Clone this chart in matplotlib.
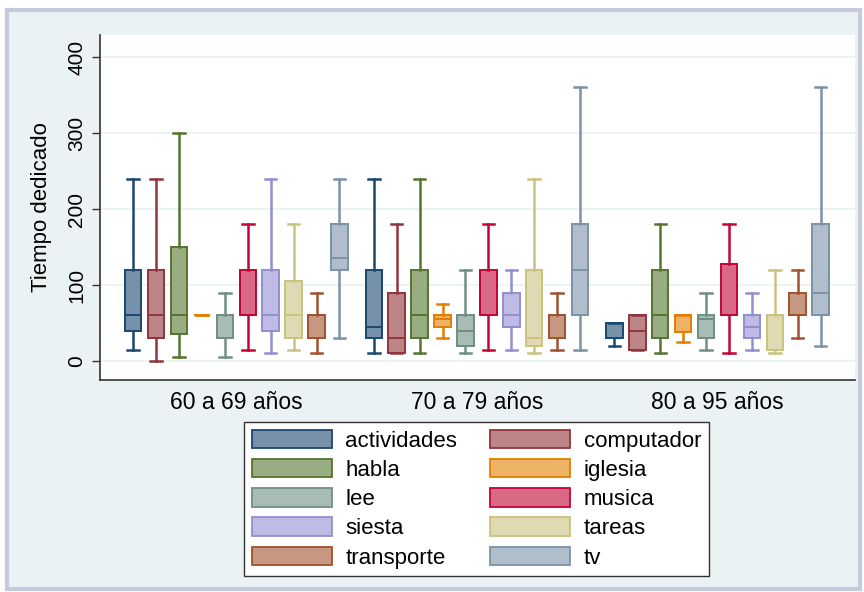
import numpy as np
import matplotlib.pyplot as plt
from matplotlib.patches import Patch, Rectangle
import matplotlib.colors as mcolors

plt.rcParams['font.family'] = ['Liberation Sans', 'DejaVu Sans']

groups = ['60 a 69 años', '70 a 79 años', '80 a 95 años']
activities = ['actividades', 'computador', 'habla', 'iglesia', 'lee',
              'musica', 'siesta', 'tareas', 'transporte', 'tv']

# one row per age group, one value per activity (same order as activities)
whisker_low = [
    [15, 0, 5, 60, 5, 15, 10, 15, 10, 30],
    [10, 10, 10, 30, 10, 15, 15, 10, 15, 15],
    [20, 15, 10, 25, 15, 10, 15, 10, 30, 20],
]
q1 = [
    [40, 30, 35, 60, 30, 60, 40, 30, 30, 120],
    [30, 10, 30, 45, 20, 60, 45, 20, 30, 60],
    [30, 15, 30, 38, 30, 60, 30, 15, 60, 60],
]
median = [
    [60, 60, 60, 60, 60, 60, 60, 60, 60, 135],
    [45, 30, 60, 55, 40, 60, 60, 30, 60, 120],
    [30, 40, 60, 60, 55, 60, 45, 15, 60, 90],
]
q3 = [
    [120, 120, 150, 60, 60, 120, 120, 105, 60, 180],
    [120, 90, 120, 60, 60, 120, 90, 120, 60, 180],
    [50, 60, 120, 60, 60, 127, 60, 60, 90, 180],
]
whisker_high = [
    [240, 240, 300, 60, 90, 180, 240, 180, 90, 240],
    [240, 180, 240, 75, 120, 180, 120, 240, 90, 360],
    [50, 60, 180, 60, 90, 180, 90, 120, 120, 360],
]

edge_colors = ['#1a476f', '#90353b', '#55752f', '#e37e00', '#6e8e84',
               '#c10534', '#938dd2', '#cac27e', '#a0522d', '#7b92a8']


def lighten(c, a=0.6):
    r = np.array(mcolors.to_rgb(c))
    return tuple(a * r + (1 - a) * np.ones(3))


fill_colors = [lighten(c) for c in edge_colors]

fig = plt.figure(figsize=(8.64, 5.92), dpi=100, facecolor='white')
# outer stata-like graph region
fig.patches.append(Rectangle((7 / 864, 1 - 589 / 592), 853 / 864, 579 / 592,
                             transform=fig.transFigure, facecolor='#eaf2f3',
                             edgecolor='#c3cbdc', linewidth=3, zorder=-10))

ax = fig.add_axes([100 / 864, 1 - 380 / 592, 755 / 864, 345 / 592])
ax.set_facecolor('white')

gap = 10.5
for g in range(len(groups)):
    for i, act in enumerate(activities):
        st = dict(whislo=whisker_low[g][i], q1=q1[g][i], med=median[g][i],
                  q3=q3[g][i], whishi=whisker_high[g][i], fliers=[])
        col = edge_colors[i]
        ax.bxp([st], positions=[g * gap + i], widths=0.72, capwidths=0.5,
               patch_artist=True, showfliers=False,
               boxprops=dict(facecolor=fill_colors[i], edgecolor=col, linewidth=1.4),
               medianprops=dict(color=col, linewidth=1.4),
               whiskerprops=dict(color=col, linewidth=1.8),
               capprops=dict(color=col, linewidth=1.8))

ax.set_xlim(-1.45, 31.5)
ax.set_ylim(-25, 429)
ax.set_yticks([0, 100, 200, 300, 400])
ax.set_yticklabels(['0', '100', '200', '300', '400'], rotation=90, va='center', fontsize=15)
ax.set_xticks([g * gap + 4.5 for g in range(len(groups))])
ax.set_xticklabels(groups, fontsize=16.5)
ax.tick_params(axis='x', length=0, pad=8)
ax.tick_params(axis='y', length=6, width=1, color='#333333', pad=4)
ax.grid(axis='y', color='#eaf2f3', linewidth=1.2)
ax.set_axisbelow(True)
for s in ['top', 'right']:
    ax.spines[s].set_visible(False)
for s in ['left', 'bottom']:
    ax.spines[s].set_color('#333333')
    ax.spines[s].set_linewidth(1.2)
ax.set_ylabel('Tiempo dedicado', fontsize=16, labelpad=11)

handles = [Patch(facecolor=fill_colors[i], edgecolor=edge_colors[i], linewidth=1.3)
           for i in range(len(activities))]
# legend fills by column, the reference reads across rows
order = list(range(0, 10, 2)) + list(range(1, 10, 2))
leg = fig.legend([handles[k] for k in order], [activities[k] for k in order],
                 ncol=2, loc='upper center',
                 bbox_to_anchor=(476.5 / 864, 1 - 422 / 592), fontsize=16,
                 frameon=True, fancybox=False, edgecolor='#333333',
                 facecolor='white', framealpha=1,
                 handlelength=3.6, handleheight=0.9, handletextpad=0.6,
                 columnspacing=1.5, labelspacing=0.33, borderpad=0.35,
                 borderaxespad=0)
leg.get_frame().set_linewidth(1.0)

fig.savefig('out.png', dpi=100, facecolor=fig.get_facecolor())
